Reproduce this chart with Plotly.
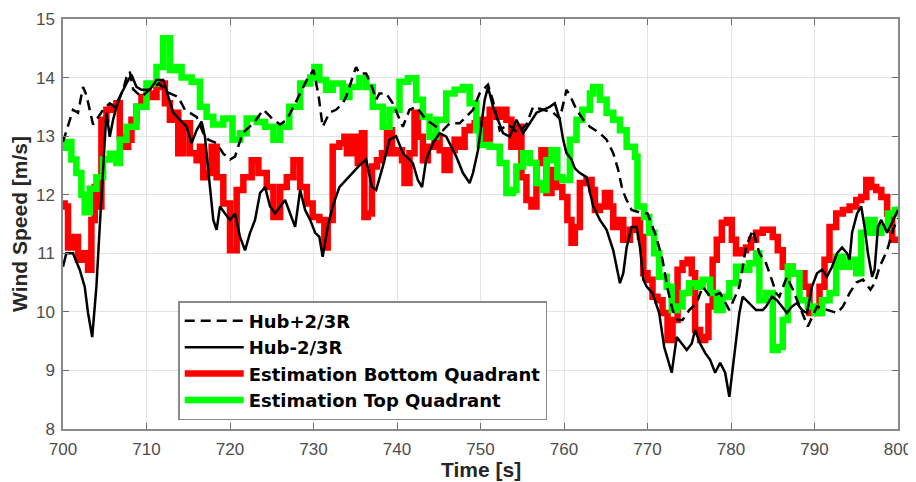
import plotly.graph_objects as go

# ---------------- data ----------------
t_hub_plus = [700.0, 700.2, 700.8, 701.2, 701.8, 702.4, 702.8, 703.2, 703.6, 704.0, 704.8, 705.6, 706.2, 706.8,
              707.2, 707.6, 708.0, 708.4, 709.4, 710.4, 711.5, 712.5, 713.8, 714.6, 716.0, 716.8, 717.4, 718.4,
              719.2, 720.0, 720.6, 721.5, 722.8, 724.0, 725.2, 726.0, 726.8, 727.6, 728.4, 729.2, 730.0, 730.6,
              731.1, 731.9, 732.7, 733.5, 733.9, 735.1, 735.5, 736.3, 737.0, 737.5, 737.9, 738.7, 739.5, 740.3,
              740.7, 741.5, 742.3, 743.5, 744.7, 745.5, 746.3, 747.5, 748.3, 749.1, 749.9, 750.9, 751.5, 752.3,
              753.3, 754.5, 755.5, 756.3, 757.5, 758.7, 759.5, 760.3, 760.7, 761.5, 762.3, 763.1, 764.3, 765.1,
              765.9, 766.5, 767.0, 767.5, 768.1, 769.0, 770.0, 771.0, 771.8, 772.4, 773.0, 773.6, 774.2, 775.0,
              775.9, 776.6, 777.5, 778.7, 779.8, 781.0, 781.8, 782.6, 783.4, 784.2, 785.0, 785.4, 785.8, 786.7,
              787.4, 788.6, 789.2, 790.3, 791.5, 792.7, 793.4, 794.2, 795.0, 795.8, 796.7, 797.2, 797.8, 798.7,
              799.4, 800.0]
v_hub_plus = [12.9, 12.99, 13.3, 13.45, 13.4, 13.84, 13.7, 13.45, 13.2, 13.28, 13.45, 13.56, 13.5, 13.67,
              13.79, 14.0, 14.1, 13.8, 13.67, 13.8, 13.9, 13.75, 13.67, 13.45, 13.33, 13.05, 12.94, 12.88,
              12.7, 12.6, 12.65, 13.05, 13.22, 13.45, 13.28, 13.2, 13.28, 13.5, 13.73, 13.96, 14.13, 13.7,
              13.16, 13.4, 13.45, 13.56, 13.67, 14.18, 14.07, 14.07, 13.84, 13.62, 13.73, 13.73, 13.56, 13.28,
              13.16, 13.45, 13.5, 13.28, 13.16, 13.1, 13.22, 13.22, 13.33, 13.45, 13.73, 13.88, 13.6, 13.1,
              13.2, 13.05, 13.2, 13.5, 13.45, 13.4, 13.3, 13.79, 13.7, 13.45, 13.28, 13.16, 13.05, 12.94,
              12.71, 12.42, 12.08, 11.91, 11.74, 11.7, 11.68, 11.3, 10.89, 10.4, 10.03, 9.86, 9.86, 10.03,
              10.15, 10.43, 10.26, 10.32, 10.03, 10.43, 11.1, 11.4, 11.0, 10.83, 10.5, 10.32, 10.26, 10.6,
              10.38, 9.98, 9.75, 10.09, 10.03, 9.98, 10.09, 10.32, 10.5, 10.55, 10.38, 10.49, 10.77, 11.05,
              11.4, 11.6]

t_hub_minus = [700.0, 700.4, 701.2, 702.0, 702.6, 703.0, 703.5, 704.0, 704.4, 704.8, 705.2, 705.6, 706.0, 706.4,
               707.0, 707.6, 708.2, 708.8, 709.4, 710.4, 711.2, 712.0, 712.6, 713.2, 714.0, 714.8, 715.4, 716.0,
               716.6, 717.0, 717.6, 718.0, 718.4, 718.8, 719.4, 720.0, 720.6, 721.2, 721.8, 722.4, 723.0, 723.6,
               724.2, 724.8, 725.4, 726.0, 726.6, 727.2, 727.8, 728.4, 729.0, 729.6, 730.2, 730.7, 731.1, 731.7,
               732.3, 733.1, 733.9, 734.7, 735.5, 736.3, 737.0, 737.5, 738.3, 739.1, 739.9, 740.7, 741.9, 742.5,
               743.0, 743.5, 744.3, 745.1, 745.9, 747.1, 747.9, 748.7, 749.1, 749.7, 750.1, 750.5, 750.9, 751.5,
               752.7, 753.5, 754.3, 755.1, 755.9, 756.7, 757.5, 758.3, 758.9, 759.5, 759.9, 760.3, 760.9, 761.3,
               761.9, 762.7, 763.5, 764.3, 765.1, 765.9, 766.3, 766.7, 767.1, 767.5, 768.1, 768.7, 769.1, 769.5,
               769.9, 770.6, 771.4, 772.0, 772.9, 773.5, 774.1, 774.7, 775.3, 775.7, 776.3, 776.9, 777.5, 778.1,
               778.7, 779.3, 779.8, 780.2, 780.6, 781.0, 781.4, 782.2, 783.0, 783.8, 784.2, 784.9, 785.5, 786.1,
               786.7, 787.3, 787.9, 788.5, 789.1, 789.7, 790.3, 790.9, 791.5, 792.1, 792.7, 793.3, 793.9, 794.2,
               794.5, 795.1, 795.6, 796.0, 796.4, 796.9, 797.2, 797.6, 798.0, 798.7, 799.4, 800.0]
v_hub_minus = [10.77, 11.0, 11.0, 10.72, 10.43, 9.98, 9.57, 10.43, 11.45, 12.42, 13.4, 12.99, 13.28, 13.5,
               13.73, 13.9, 14.05, 13.84, 13.79, 13.79, 13.96, 13.96, 13.67, 13.4, 13.28, 13.16, 12.88, 13.1,
               13.25, 12.99, 12.13, 11.57, 11.4, 11.8, 11.68, 11.57, 11.68, 11.28, 11.05, 11.35, 11.57, 12.03,
               12.13, 11.8, 11.68, 11.8, 11.91, 11.68, 11.45, 12.08, 11.74, 11.57, 11.35, 11.28, 10.94, 11.45,
               11.8, 12.13, 12.25, 12.37, 12.5, 12.6, 12.13, 12.08, 12.48, 12.94, 13.0, 12.71, 12.54, 12.25,
               12.13, 12.6, 12.88, 13.05, 12.99, 12.65, 12.37, 12.2, 12.37, 12.76, 13.16, 13.62, 13.84, 13.5,
               13.05, 12.99, 13.28, 13.05, 13.22, 13.4, 13.45, 13.5, 13.56, 13.28, 12.94, 12.71, 12.6, 12.45,
               12.37, 12.3, 11.8, 11.57, 11.4, 11.05, 10.77, 10.49, 10.66, 11.1, 11.45, 11.45, 11.1, 10.55,
               10.43, 10.32, 9.98, 9.4, 8.96, 9.57, 9.46, 9.35, 9.46, 9.69, 9.46, 9.3, 9.18, 8.96,
               9.13, 8.96, 8.55, 9.01, 9.57, 9.98, 10.26, 10.15, 10.03, 10.03, 10.09, 10.26, 10.2, 10.09,
               9.98, 10.09, 10.15, 10.03, 9.98, 10.43, 10.66, 10.72, 10.6, 10.77, 11.0, 11.1, 11.0, 10.89,
               11.35, 11.68, 11.8, 11.45, 11.0, 10.6, 10.72, 11.45, 11.57, 11.35, 11.57, 11.74]

t_est_bottom = [700.0, 700.2, 700.6, 701.2, 701.8, 702.4, 703.0, 703.4, 703.8, 704.2, 704.6, 705.2, 705.8, 706.4,
                706.8, 707.4, 707.8, 708.2, 708.8, 709.4, 710.0, 710.6, 711.2, 711.6, 712.2, 712.8, 713.4, 713.8,
                714.4, 715.2, 716.0, 716.4, 716.8, 717.2, 717.8, 718.4, 719.2, 720.0, 720.8, 721.6, 722.6, 723.4,
                724.4, 725.2, 726.0, 726.8, 727.6, 728.4, 729.2, 729.9, 730.7, 731.3, 731.7, 732.3, 733.1, 733.7,
                734.0, 734.7, 735.3, 735.8, 736.1, 736.5, 737.0, 737.6, 738.2, 738.8, 739.4, 740.0, 740.6, 740.9,
                741.5, 742.1, 742.5, 743.1, 743.7, 744.5, 745.1, 745.7, 746.3, 746.9, 747.5, 748.1, 748.7, 749.3,
                749.9, 750.5, 751.1, 751.9, 752.5, 753.1, 753.7, 754.3, 754.9, 755.5, 756.1, 756.7, 757.3, 757.9,
                758.5, 759.1, 759.8, 760.4, 760.9, 761.3, 761.9, 762.7, 763.3, 763.7, 764.3, 764.9, 765.5, 765.9,
                766.5, 767.1, 767.9, 768.5, 769.1, 769.5, 770.0, 770.6, 771.2, 771.8, 772.4, 773.0, 773.6, 774.2,
                774.8, 775.3, 775.7, 776.3, 776.9, 777.3, 777.8, 778.3, 778.9, 779.5, 780.1, 780.6, 781.2, 781.8,
                782.4, 783.0, 783.8, 784.4, 785.0, 785.6, 786.2, 786.8, 787.4, 788.2, 788.8, 789.4, 790.0, 790.6,
                791.2, 791.8, 792.6, 793.4, 794.2, 795.0, 795.6, 796.2, 796.8, 797.4, 798.0, 798.7, 799.3, 800.0]
v_est_bottom = [11.85, 11.8, 11.1, 11.28, 10.89, 11.0, 10.72, 11.57, 12.13, 11.8, 13.28, 13.45, 13.5, 13.56,
                12.99, 12.82, 12.94, 13.28, 13.5, 13.67, 13.73, 13.67, 13.84, 13.9, 13.56, 13.28, 13.4, 12.71,
                13.22, 12.71, 12.59, 12.82, 12.3, 12.37, 12.82, 12.3, 11.85, 11.05, 12.08, 12.3, 12.59, 12.37,
                12.13, 11.62, 12.13, 12.3, 12.59, 12.13, 11.85, 11.62, 11.57, 11.1, 11.57, 12.82, 12.88, 12.99,
                12.71, 12.99, 12.54, 13.05, 11.62, 11.68, 12.48, 12.59, 12.71, 13.1, 12.71, 12.76, 12.59, 12.2,
                12.71, 13.4, 12.99, 12.59, 12.82, 12.99, 12.76, 12.42, 12.76, 12.94, 12.82, 13.1, 13.16, 13.22,
                13.28, 12.95, 13.45, 13.33, 13.45, 13.28, 12.82, 13.16, 12.3, 11.91, 11.8, 12.54, 12.76, 12.03,
                12.42, 12.13, 11.96, 11.57, 11.18, 11.45, 12.2, 12.25, 12.08, 11.74, 11.8, 12.03, 11.8, 11.45,
                11.57, 11.23, 11.4, 11.57, 11.28, 10.66, 10.55, 10.26, 10.2, 9.98, 9.52, 9.86, 10.72, 10.83,
                10.89, 10.66, 9.69, 9.52, 9.57, 10.09, 10.89, 11.23, 11.52, 11.57, 11.23, 11.0, 11.05, 11.1,
                11.23, 11.35, 11.4, 11.4, 11.28, 11.05, 10.77, 10.77, 10.66, 10.66, 10.43, 9.98, 9.98, 10.43,
                10.89, 11.45, 11.68, 11.74, 11.8, 11.91, 11.96, 12.25, 12.13, 12.08, 11.96, 11.68, 11.23, 11.18]

t_est_top = [700.0, 700.4, 701.0, 701.6, 702.2, 702.6, 703.2, 704.0, 704.8, 705.6, 706.4, 706.8, 707.6, 708.8,
             710.0, 711.2, 712.0, 712.8, 713.6, 714.2, 715.4, 716.4, 717.2, 718.0, 719.2, 720.3, 721.2, 722.0,
             723.2, 724.2, 725.2, 726.0, 727.1, 728.4, 729.6, 730.1, 730.7, 731.5, 732.3, 733.5, 734.3, 735.5,
             736.3, 737.1, 738.3, 739.1, 740.3, 741.3, 742.3, 743.1, 743.9, 744.7, 745.9, 746.9, 747.9, 748.7,
             749.5, 749.9, 751.1, 752.3, 753.1, 753.9, 754.3, 755.1, 755.9, 756.7, 757.5, 757.9, 758.5, 759.2,
             759.8, 760.7, 761.5, 762.2, 763.1, 763.5, 764.3, 765.1, 765.9, 766.7, 767.5, 768.5, 768.8, 769.6,
             770.2, 770.8, 771.4, 772.3, 772.9, 773.5, 774.2, 775.0, 775.9, 776.6, 777.5, 778.3, 779.0, 779.8,
             780.6, 781.4, 782.2, 783.0, 783.4, 784.2, 785.0, 785.6, 786.2, 786.8, 787.4, 788.2, 789.2, 790.0,
             790.9, 791.8, 792.6, 793.4, 794.2, 795.0, 795.6, 796.4, 797.2, 798.0, 798.8, 799.6, 800.0]
v_est_top = [12.8, 12.9, 12.6, 12.37, 12.0, 11.7, 12.1, 12.3, 12.6, 12.7, 12.54, 12.94, 13.16, 13.5,
             13.9, 14.18, 14.67, 14.13, 14.18, 14.0, 13.93, 13.5, 13.33, 13.2, 13.3, 12.94, 13.05, 13.3,
             13.24, 13.16, 12.94, 13.16, 13.5, 13.9, 14.0, 14.18, 13.96, 13.79, 13.9, 13.67, 13.84, 13.99,
             13.84, 13.5, 13.16, 13.45, 13.93, 13.99, 13.62, 13.33, 12.99, 13.28, 13.73, 13.79, 13.84, 13.56,
             13.1, 12.85, 12.82, 12.54, 12.03, 12.08, 12.48, 12.71, 12.54, 12.2, 12.08, 12.59, 12.76, 12.3,
             12.25, 12.94, 13.28, 13.45, 13.73, 13.84, 13.62, 13.4, 13.28, 13.1, 12.82, 12.65, 11.8, 11.62,
             11.35, 11.0, 10.6, 10.43, 10.03, 10.09, 10.32, 10.49, 10.43, 10.55, 10.32, 10.03, 10.26, 10.49,
             10.77, 10.72, 10.83, 11.0, 10.2, 10.32, 9.35, 9.4, 9.86, 10.77, 10.66, 10.2, 10.09, 9.98,
             10.2, 10.32, 10.94, 10.77, 10.89, 10.66, 11.35, 11.57, 11.35, 11.45, 11.68, 11.74, 11.8]

x_ticks = [700, 710, 720, 730, 740, 750, 760, 770, 780, 790, 800]
y_ticks = [8, 9, 10, 11, 12, 13, 14, 15]

series_names = ["Hub+2/3R", "Hub-2/3R", "Estimation Bottom Quadrant", "Estimation Top Quadrant"]
x_title = "Time [s]"
y_title = "Wind Speed [m/s]"

# ---------------- figure ----------------
FONT = "Liberation Sans, Arial, Helvetica, sans-serif"
LEGEND_FONT = "DejaVu Sans, Liberation Sans, Arial, sans-serif"
fig = go.Figure()

fig.add_trace(go.Scatter(x=t_est_bottom, y=v_est_bottom, mode="lines", name=series_names[2],
                         line=dict(color="#ff0000", width=6.5, shape="hv"), legendrank=3))
fig.add_trace(go.Scatter(x=t_est_top, y=v_est_top, mode="lines", name=series_names[3],
                         line=dict(color="#00ff00", width=6.5, shape="hv"), legendrank=4))
fig.add_trace(go.Scatter(x=t_hub_plus, y=v_hub_plus, mode="lines", name=series_names[0],
                         line=dict(color="#000000", width=2.5, dash="10px,6px"), legendrank=1))
fig.add_trace(go.Scatter(x=t_hub_minus, y=v_hub_minus, mode="lines", name=series_names[1],
                         line=dict(color="#000000", width=2.5), legendrank=2))

axis_common = dict(
    showline=True, linecolor="#8a8a8a", linewidth=1.5, mirror="ticks",
    ticks="inside", ticklen=6, tickcolor="#6a6a6a", tickwidth=1,
    showgrid=True, gridcolor="#e3e3e3", gridwidth=1, zeroline=False,
    automargin=False,
    tickfont=dict(family=FONT, size=17, color="#4d4d4d"),
)

fig.update_xaxes(range=[700, 800], tickvals=x_ticks, ticktext=[str(v) for v in x_ticks],
                 ticklabelstandoff=4,
                 **axis_common)
fig.update_yaxes(range=[8, 15], tickvals=y_ticks, ticktext=[str(v) for v in y_ticks],
                 ticklabelstandoff=3,
                 title=dict(text=y_title, font=dict(family=FONT, size=21, color="#262626", weight="bold")),
                 **axis_common)

# x-axis title as a paper-anchored annotation so it sits clear of the bottom edge
fig.add_annotation(text=x_title, xref="paper", yref="paper", x=0.5, y=0,
                   xanchor="center", yanchor="top", yshift=-27, showarrow=False,
                   font=dict(family=FONT, size=21, color="#262626", weight="bold"))

# the page body adds an 8 px offset, so margins are shifted accordingly
fig.update_layout(
    width=916, height=482,
    margin=dict(l=55, r=26, t=11, b=61, autoexpand=False),
    paper_bgcolor="white", plot_bgcolor="white",
    showlegend=True,
    legend=dict(x=0.138, y=0.312, xanchor="left", yanchor="top",
                bgcolor="white", bordercolor="#8a8a8a", borderwidth=1.5,
                font=dict(family=LEGEND_FONT, size=18, color="#000000", weight="bold"),
                itemwidth=59, tracegroupgap=0, traceorder="normal"),
)

fig.write_html("out.html")
